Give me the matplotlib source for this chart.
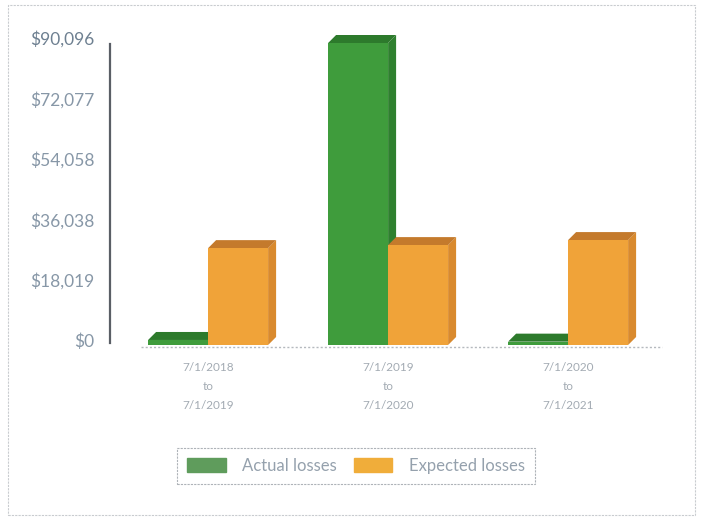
import matplotlib.pyplot as plt
from matplotlib.patches import Polygon, Rectangle
from matplotlib.transforms import ScaledTranslation, IdentityTransform

periods = ["7/1/2018\nto\n7/1/2019", "7/1/2019\nto\n7/1/2020", "7/1/2020\nto\n7/1/2021"]
actual_losses = [1500, 90096, 1000]
expected_losses = [28900, 29800, 31300]
y_ticks = [0, 18019, 36038, 54058, 72077, 90096]
y_labels = ["$0", "$18,019", "$36,038", "$54,058", "$72,077", "$90,096"]

plt.rcParams["font.family"] = ["Lato", "DejaVu Sans"]

W, H = 703, 519
fig = plt.figure(figsize=(W / 100, H / 100), dpi=100)
ax = fig.add_axes([110 / W, 1 - 340 / H, 558 / W, 302 / H])
ax.set_xlim(-0.545, 2.555)
ax.set_ylim(0, 90096)

for s in ["top", "right", "bottom"]:
    ax.spines[s].set_visible(False)
ax.spines["left"].set_color("#5a5f66")
ax.spines["left"].set_linewidth(1.6)
ax.spines["left"].set_bounds(-1000, 90096 * 0.98)

ax.set_yticks(y_ticks)
ax.set_yticklabels(y_labels, fontsize=12.5, color="#8797a7")
ax.get_yticklabels()[-1].set_color("#6e8091")
ax.tick_params(axis="y", length=0, pad=11)
ax.set_xticks(range(len(periods)))
ax.set_xticklabels(periods, fontsize=8.5, color="#a3abb3", linespacing=1.9)
ax.tick_params(axis="x", length=0, pad=16)

# 3D-ish bars: front face shifted down a bit, top and side faces drawn in pixels
shift = ScaledTranslation(0, -5 / 100, fig.dpi_scale_trans)
dx, dy = 8, 8
width = 1 / 3
series = [
    (actual_losses, -width / 2, "#3f9c3c", "#2d7a2c", "#2f802f"),
    (expected_losses, width / 2, "#f0a339", "#c47a2c", "#d98a2e"),
]

z = 2
for i in range(len(periods)):
    for vals, off, front, top, side in series:
        v = vals[i]
        x0, x1 = i + off - width / 2, i + off + width / 2
        (px0, py0), (px1, py1) = ax.transData.transform([(x0, 0), (x1, v)])
        py0 -= 5
        py1 -= 5
        side_pts = [(px1, py0), (px1 + dx, py0 + dy), (px1 + dx, py1 + dy), (px1, py1)]
        top_pts = [(px0, py1), (px0 + dx, py1 + dy), (px1 + dx, py1 + dy), (px1, py1)]
        ax.add_patch(Polygon(side_pts, closed=True, facecolor=side, edgecolor="none",
                             transform=IdentityTransform(), clip_on=False, zorder=z))
        ax.add_patch(Polygon(top_pts, closed=True, facecolor=top, edgecolor="none",
                             transform=IdentityTransform(), clip_on=False, zorder=z + 1))
        bar = ax.bar(i + off, v, width=width, color=front, zorder=z + 2, clip_on=False)
        for p in bar:
            p.set_transform(ax.transData + shift)
        z += 3

floor = ax.axhline(0, xmin=0.055, xmax=0.99, color="#b5b9be", linewidth=1,
                   linestyle=(0, (1.5, 1.5)), clip_on=False, zorder=1)
floor.set_transform(ax.get_yaxis_transform() + ScaledTranslation(0, -7 / 100, fig.dpi_scale_trans))

handles = [Rectangle((0, 0), 1, 1, color="#5f9c5c"), Rectangle((0, 0), 1, 1, color="#f0ad3a")]
leg = fig.legend(handles, ["Actual losses", "Expected losses"], loc="center",
                 bbox_to_anchor=(356 / W, 1 - 466 / H), ncol=2, fontsize=12,
                 handlelength=2.3, handleheight=0.9, columnspacing=1.0, handletextpad=1.0,
                 frameon=True, fancybox=False, borderpad=0.6)
leg.get_frame().set_edgecolor("#9aa0a6")
leg.get_frame().set_linestyle((0, (2, 1)))
leg.get_frame().set_linewidth(0.8)
for t in leg.get_texts():
    t.set_color("#95a1ad")

fig.add_artist(Rectangle((8 / W, 4 / H), 687 / W, 510 / H, transform=fig.transFigure,
                         fill=False, edgecolor="#c9ccd0", linewidth=0.8,
                         linestyle=(0, (2, 1))))

fig.savefig("out.png", dpi=100)
